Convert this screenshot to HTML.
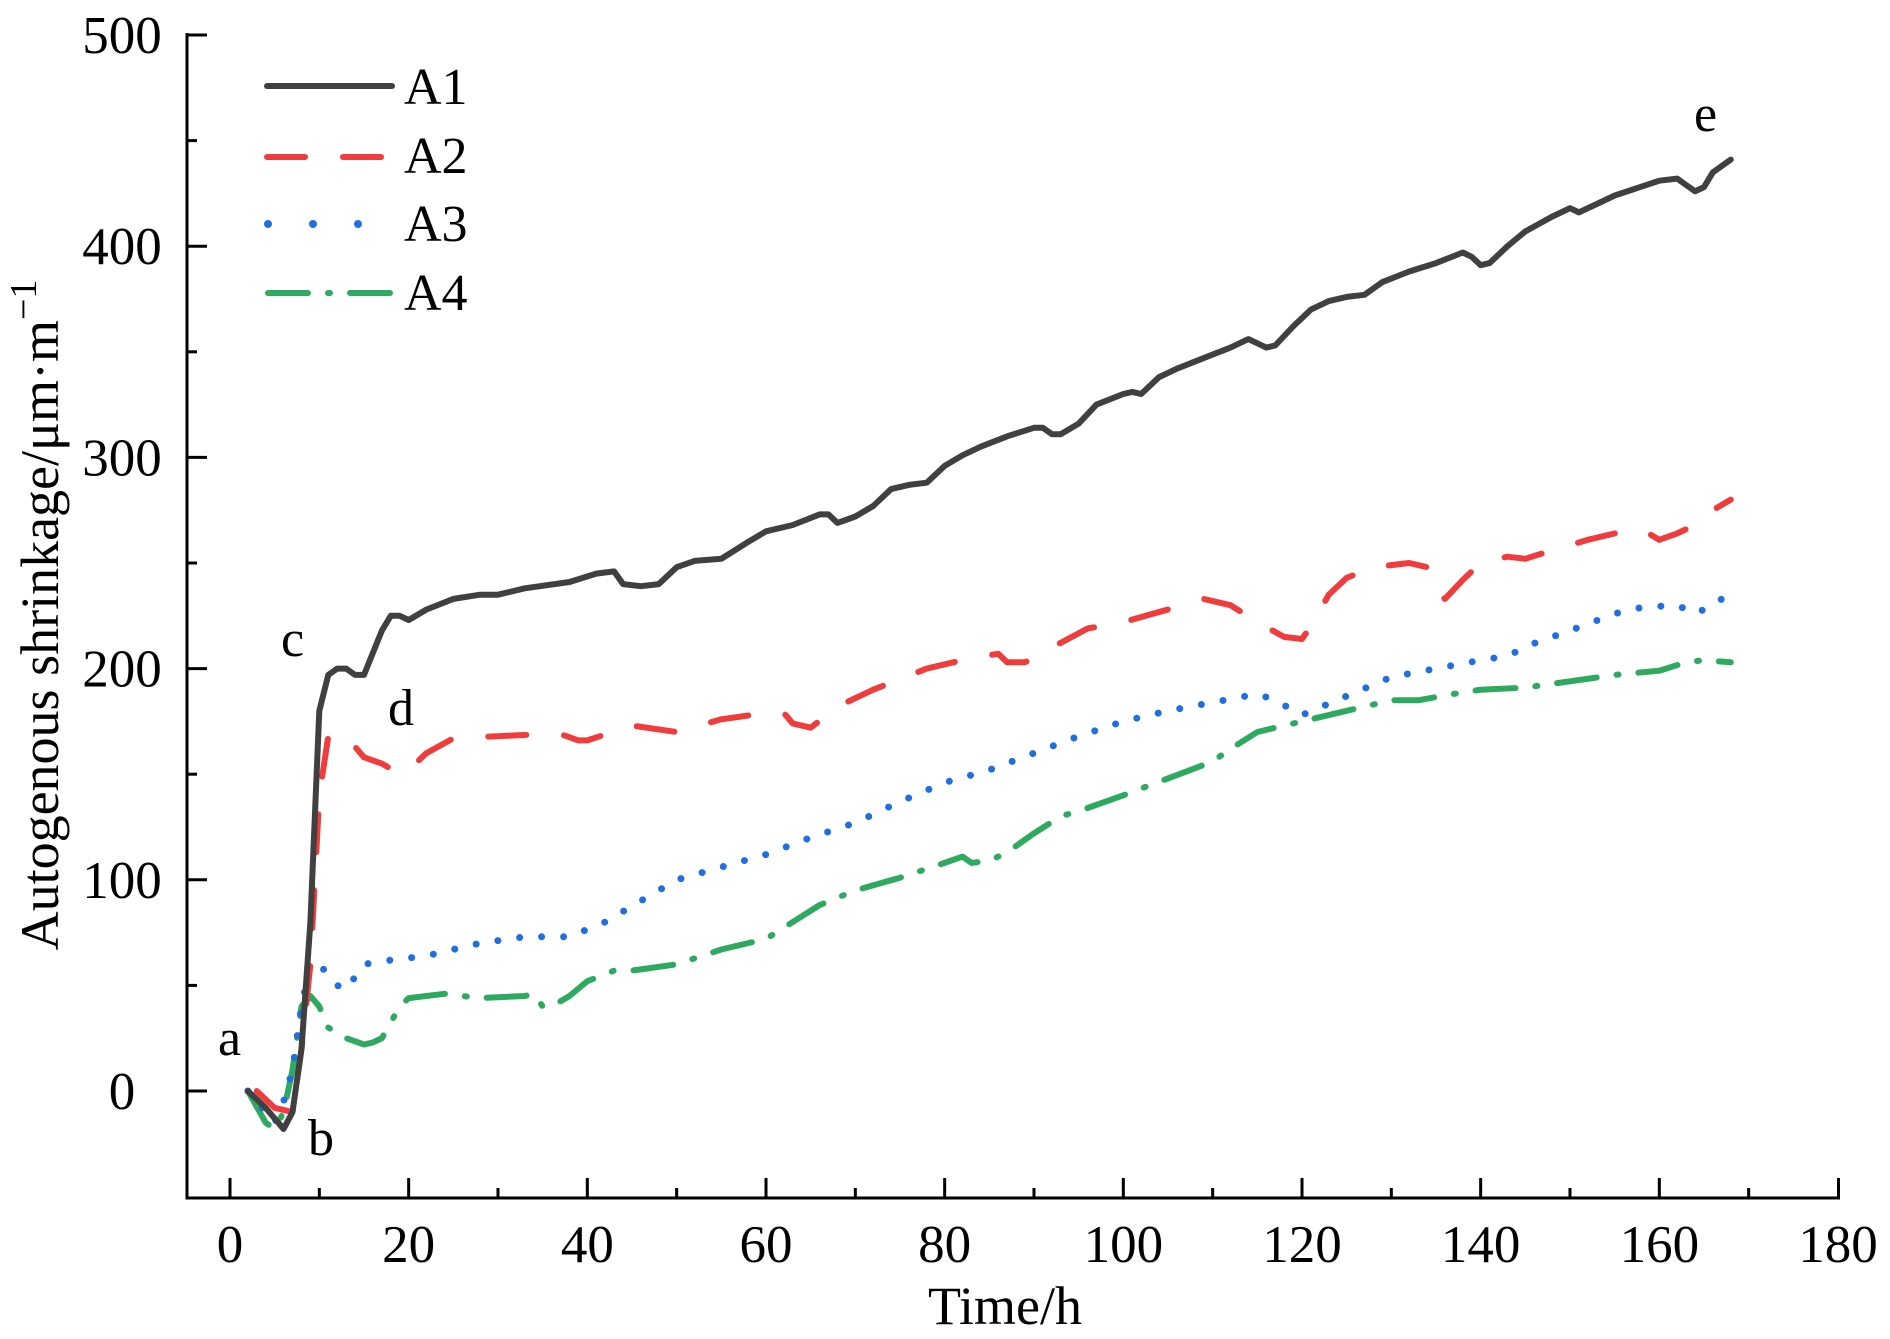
<!DOCTYPE html>
<html><head><meta charset="utf-8"><style>
html,body{margin:0;padding:0;background:#fff;width:1890px;height:1339px;overflow:hidden}
svg text{font-family:"Liberation Serif",serif;fill:#000}
</style></head><body>
<svg id="s" width="1890" height="1339" xmlns="http://www.w3.org/2000/svg">
<g stroke="#000" stroke-width="3" fill="none">
<line x1="187" y1="33" x2="187" y2="1199"/>
<line x1="185.5" y1="1198" x2="1840" y2="1198"/>
<line x1="1838.5" y1="1198" x2="1838.5" y2="1178"/>
</g>
<g id="ticks" stroke="#000" stroke-width="3"></g>
<g id="labels" font-size="53" text-anchor="middle"></g>
<text x="1005" y="1324" font-size="54" text-anchor="middle">Time/h</text>
<text transform="translate(58,615) rotate(-90)" font-size="54" text-anchor="middle">Autogenous shrinkage/μm·m<tspan dy="-22" font-size="38">−1</tspan></text>
<g id="series" fill="none" stroke-linejoin="round"></g>
<g stroke-width="6" fill="none">
<line x1="267" y1="86" x2="392" y2="86" stroke="#404040" stroke-linecap="round"/>
<line x1="267" y1="157" x2="392" y2="157" stroke="#f03c3c" stroke-dasharray="38 38" stroke-linecap="round"/>
<line x1="268" y1="224" x2="392" y2="224" stroke="#1f6fe0" stroke-dasharray="0 45" stroke-linecap="round" stroke-width="8"/>
<line x1="268" y1="293" x2="392" y2="293" stroke="#2eaa60" stroke-dasharray="40 20 2 20" stroke-linecap="round"/>
</g>
<g font-size="52">
<text x="404" y="104">A1</text><text x="404" y="173">A2</text><text x="404" y="241">A3</text><text x="404" y="310">A4</text>
<text x="218" y="1055">a</text><text x="308" y="1155">b</text><text x="281" y="656">c</text><text x="388" y="725">d</text><text x="1694" y="131">e</text>
</g>
</svg>
<script>
var X=t=>230+t*(1838-230)/180, Y=v=>1091-v*(1091-35)/500;
var tk=document.getElementById('ticks'),lb=document.getElementById('labels'),NS='http://www.w3.org/2000/svg';
function el(p,n,a,txt){var e=document.createElementNS(NS,n);for(var k in a)e.setAttribute(k,a[k]);if(txt)e.textContent=txt;p.appendChild(e);}
for(var t=0;t<=170;t+=10){var maj=t%20==0;el(tk,'line',{x1:X(t),x2:X(t),y1:1198,y2:maj?1178:1188});if(maj)el(lb,'text',{x:X(t),y:1262},''+t);}
el(lb,'text',{x:X(180),y:1262},'180');
for(var v=0;v<=500;v+=50){var maj=v%100==0;el(tk,'line',{x1:187,x2:maj?207:197,y1:Y(v),y2:Y(v)});if(maj)el(lb,'text',{x:122,y:Y(v)+18},''+v);}
var D={
a1:[[2,0],[4,-8],[6,-18],[7,-10],[8,20],[9,80],[10,180],[11,197],[12,200],[13,200],[14,197],[15,197],[17,218],[18,225],[19,225],[20,223],[22,228],[25,233],[28,235],[30,235],[33,238],[38,241],[41,245],[43,246],[44,240],[46,239],[48,240],[50,248],[52,251],[55,252],[58,260],[60,265],[63,268],[66,273],[67,273],[68,269],[70,272],[72,277],[74,285],[76,287],[78,288],[80,296],[82,301],[84,305],[87,310],[90,314],[91,314],[92,311],[93,311],[95,316],[97,325],[100,330],[101,331],[102,330],[104,338],[106,342],[109,347],[112,352],[114,356],[116,352],[117,353],[119,362],[121,370],[123,374],[125,376],[127,377],[129,383],[132,388],[135,392],[138,397],[139,395],[140,391],[141,392],[143,400],[145,407],[148,414],[150,418],[151,416],[153,420],[155,424],[160,431],[162,432],[163,429],[164,426],[165,428],[166,435],[168,441]],
a2:[[3,0],[5,-8],[7,-10],[8,20],[9,60],[10,140],[11,168],[12,170],[13,168],[15,158],[17,155],[19,150],[20,152],[22,160],[25,167],[30,168],[35,169],[37,169],[39,166],[40,166],[45,173],[50,170],[55,176],[60,179],[62,179],[63,174],[65,172],[68,182],[72,190],[78,200],[83,205],[86,207],[87,203],[89,203],[92,210],[96,219],[100,222],[105,228],[109,233],[112,230],[115,222],[118,215],[120,214],[121,220],[123,235],[125,243],[128,248],[132,250],[134,248],[135,236],[136,233],[138,242],[140,250],[143,253],[145,252],[148,256],[152,261],[156,265],[158,266],[160,261],[162,264],[164,268],[166,275],[168,280]],
a3:[[2,0],[4,-10],[5,-15],[6,-5],[7,10],[8,40],[9,60],[10,60],[12,50],[13,48],[15,60],[18,62],[22,64],[28,70],[33,73],[38,73],[42,80],[46,90],[50,100],[55,106],[60,112],[65,120],[70,127],[75,137],[80,146],[85,152],[90,160],[95,168],[100,175],[105,180],[110,184],[115,188],[117,185],[120,178],[125,187],[130,196],[135,200],[140,204],[143,206],[146,212],[150,218],[155,226],[158,229],[162,230],[164,226],[166,230],[168,236]],
a4:[[2,0],[4,-15],[5,-18],[6,-10],[7,10],[8,40],[9,45],[10,40],[11,30],[13,25],[15,22],[16,23],[17,25],[19,40],[20,44],[24,46],[28,44],[33,45],[34,46],[35,40],[36,40],[38,45],[40,52],[43,57],[45,57],[50,60],[55,67],[60,72],[63,80],[66,88],[70,95],[75,101],[80,108],[82,111],[83,108],[85,109],[87,113],[90,122],[93,130],[96,134],[100,140],[105,148],[110,156],[112,162],[115,170],[117,172],[120,175],[125,180],[127,182],[130,185],[133,185],[137,188],[140,190],[145,191],[150,194],[155,197],[160,199],[163,203],[165,204],[168,203]]};
var S=document.getElementById('series');
function P(a){return a.map((p,i)=>(i?'L':'M')+X(p[0]).toFixed(1)+' '+Y(p[1]).toFixed(1)).join('');}
el(S,'path',{d:P(D.a4),stroke:'#2eaa60','stroke-width':6,'stroke-dasharray':'40 20 2 20','stroke-linecap':'round'});
el(S,'path',{d:P(D.a3),stroke:'#1f6fe0','stroke-width':7,'stroke-dasharray':'0 22','stroke-linecap':'round'});
el(S,'path',{d:P(D.a2),stroke:'#f03c3c','stroke-width':6,'stroke-dasharray':'38 38','stroke-linecap':'round'});
el(S,'path',{d:P(D.a1),stroke:'#404040','stroke-width':6,'stroke-linecap':'round'});
</script>
</body></html>
